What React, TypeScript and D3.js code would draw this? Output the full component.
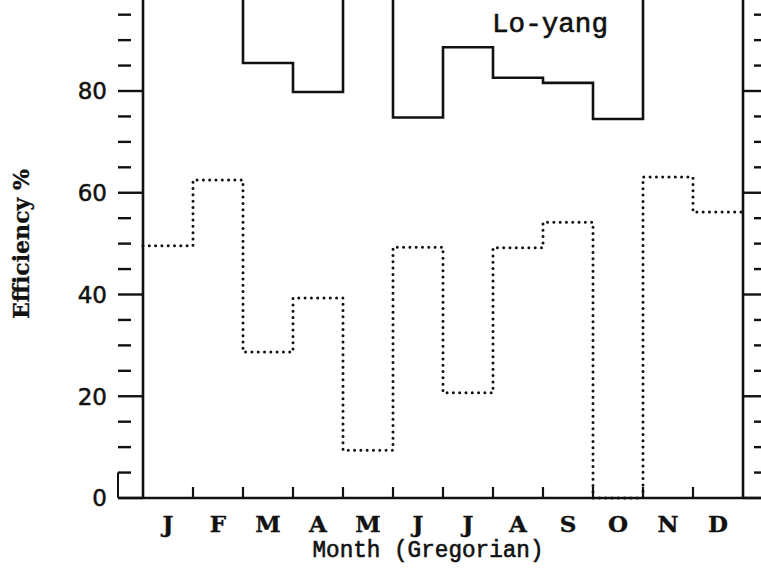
import { useEffect } from 'react'
import * as d3 from 'd3'

// months along the x axis
const months = ['J', 'F', 'M', 'A', 'M', 'J', 'J', 'A', 'S', 'O', 'N', 'D']
// solid line (upper series) - Jan, Feb, May, Nov, Dec run off the top of the picture
const solidValues = [100, 100, 85.5, 79.8, 100, 74.8, 88.6, 82.6, 81.6, 74.5, 100, 100]
// dotted line (lower series)
const dottedValues = [49.6, 62.5, 28.7, 39.3, 9.4, 49.3, 20.7, 49.2, 54.2, 0, 63.1, 56.2]
const yMajorTicks = [0, 20, 40, 60, 80, 100]
const yMinorTicks = d3.range(0, 101, 5).filter(v => v % 20 !== 0)
const seriesLabel = 'Lo-yang'

export default function App() {
  useEffect(() => {
    document.body.style.margin = '0'
  }, [])

  const width = 761
  const height = 574

  const x = d3.scaleLinear().domain([0, 12]).range([143, 743])
  const y = d3.scaleLinear().domain([0, 80]).range([498, 91])

  const frameLeft = 118
  const frameRight = 767

  // step paths: one point per month start plus the closing point
  const stepLine = d3.line<[number, number]>()
    .x(d => x(d[0]))
    .y(d => y(d[1]))
    .curve(d3.curveStepAfter)

  const toSteps = (vals: number[]): [number, number][] => [
    ...vals.map((v, i) => [i, v] as [number, number]),
    [12, vals[vals.length - 1]],
  ]

  const ink = '#111'

  return (
    <svg width={width} height={height} style={{ position: 'absolute', left: 0, top: 0, background: '#fff' }}>
      {/* data */}
      <path d={stepLine(toSteps(solidValues)) || ''} fill="none" stroke={ink} strokeWidth={2.6} />
      <path
        d={stepLine(toSteps(dottedValues)) || ''}
        fill="none"
        stroke={ink}
        strokeWidth={3}
        strokeLinecap="round"
        strokeDasharray="0,6.3"
      />

      {/* axes */}
      <line x1={x(0)} x2={x(0)} y1={y(0)} y2={-20} stroke={ink} strokeWidth={2.6} />
      <line x1={x(12)} x2={x(12)} y1={y(0)} y2={-20} stroke={ink} strokeWidth={2.6} />
      <line x1={frameLeft} x2={frameRight} y1={y(0)} y2={y(0)} stroke={ink} strokeWidth={2.6} />
      <line x1={frameLeft} x2={frameLeft} y1={y(0)} y2={y(5)} stroke={ink} strokeWidth={2} />

      {/* y ticks, left and right */}
      {yMajorTicks.map(t => (
        <g key={'M' + t}>
          <line x1={frameLeft} x2={x(0)} y1={y(t)} y2={y(t)} stroke={ink} strokeWidth={2.4} />
          <line x1={x(12)} x2={frameRight} y1={y(t)} y2={y(t)} stroke={ink} strokeWidth={2.4} />
        </g>
      ))}
      {yMinorTicks.map(t => (
        <g key={'m' + t}>
          <line x1={frameLeft} x2={frameLeft + 13} y1={y(t)} y2={y(t)} stroke={ink} strokeWidth={2.4} />
          <line x1={frameRight - 13} x2={frameRight} y1={y(t)} y2={y(t)} stroke={ink} strokeWidth={2.4} />
        </g>
      ))}
      {yMajorTicks.filter(t => t < 100).map(t => (
        <text
          key={'l' + t}
          x={107}
          y={y(t)}
          dy="0.36em"
          textAnchor="end"
          fontFamily="DejaVu Sans"
          fontSize={23}
          stroke={ink}
          strokeWidth={0.5}
          fill={ink}
        >
          {t}
        </text>
      ))}

      {/* x ticks at month boundaries */}
      {d3.range(1, 12).map(i => (
        <line key={'x' + i} x1={x(i)} x2={x(i)} y1={y(0)} y2={y(0) - 11} stroke={ink} strokeWidth={2.2} />
      ))}
      {months.map((m, i) => (
        <text
          key={'mo' + i}
          x={x(i + 0.5)}
          y={532}
          textAnchor="middle"
          fontFamily="DejaVu Serif, serif"
          fontWeight="bold"
          fontSize={23}
          stroke={ink}
          strokeWidth={0.4}
          fill={ink}
        >
          {m}
        </text>
      ))}

      {/* axis titles */}
      <text
        x={428}
        y={557}
        textAnchor="middle"
        fontFamily="Liberation Mono"
        fontSize={23}
        textLength={231}
        lengthAdjust="spacingAndGlyphs"
        stroke={ink}
        strokeWidth={0.6}
        fill={ink}
      >
        Month (Gregorian)
      </text>
      <text
        transform="translate(29,244) rotate(-90)"
        textAnchor="middle"
        fontFamily="DejaVu Serif, serif"
        fontWeight="bold"
        fontSize={23}
        textLength={150}
        lengthAdjust="spacingAndGlyphs"
        stroke={ink}
        strokeWidth={0.3}
        fill={ink}
      >
        Efficiency %
      </text>

      {/* series label */}
      <text
        x={492}
        y={32}
        fontFamily="Liberation Mono"
        fontSize={27}
        textLength={116}
        lengthAdjust="spacingAndGlyphs"
        stroke={ink}
        strokeWidth={0.6}
        fill={ink}
      >
        {seriesLabel}
      </text>
    </svg>
  )
}
